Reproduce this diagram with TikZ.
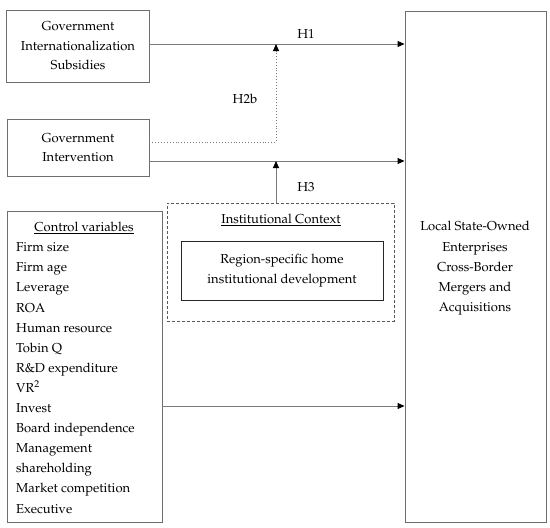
\documentclass[tikz,border=0pt]{standalone}
\usepackage[T1]{fontenc}
\usepackage{mathpazo}
\usetikzlibrary{arrows.meta}
\definecolor{boxgray}{HTML}{6E6E6E}
\definecolor{linegray}{HTML}{7A7A7A}
\begin{document}
\begin{tikzpicture}[x=1pt,y=-1pt,
  txt/.style={font=\fontsize{13}{19.6}\selectfont, inner sep=0pt},
  bx/.style={draw=boxgray, line width=0.9pt, inner sep=0pt, align=center, font=\fontsize{13}{19.6}\selectfont},
  conn/.style={draw=linegray, line width=0.9pt, -{Triangle[length=7pt,width=6pt,color=black]}}
]
\useasboundingbox (0,0) rectangle (550,528);

\node[bx, minimum width=143pt, minimum height=72pt] (gis) at (78,46)
  {Government\\Internationalization\\Subsidies};
\node[bx, minimum width=142pt, minimum height=57pt] (gi) at (78,147.5)
  {Government\\Intervention};
\node[bx, minimum width=141pt, minimum height=511pt] (lsoe) at (475.5,266.5) {};
\node[txt, align=center, font=\fontsize{13}{20.2}\selectfont] (lsoetxt) at (475,268.5)
  {Local State-Owned\\Enterprises\\Cross-Border\\Mergers and\\Acquisitions};

\node[bx, minimum width=155pt, minimum height=311pt] (ctrl) at (84.5,366.5) {};
\node[txt] (ctrlhead) at (84,228) {\underline{Control variables}};
\node[txt, align=left, anchor=north west, font=\fontsize{13}{20.1}\selectfont] (ctrllist) at (16,242.5)
  {Firm size\\Firm age\\Leverage\\ROA\\Human resource\\Tobin Q\\R\&D expenditure\\VR\textsuperscript{2}\\Invest\\Board independence\\Management\\shareholding\\Market competition\\Executive};

\node[draw=boxgray!80!black, dash pattern=on 3pt off 2pt, line width=0.9pt, minimum width=227pt, minimum height=118pt, inner sep=0pt] (ic) at (280.5,262) {};
\node[txt] (ichead) at (281,220) {\underline{Institutional Context}};
\node[bx, draw=black!85, minimum width=202pt, minimum height=59pt] (rs) at (282,270.5)
  {Region-specific home\\institutional development};

\coordinate (j1) at (276,44);
\coordinate (j2) at (276,161);

\draw[conn] ([yshift=2pt]gis.east) -- ([yshift=2pt]gis.east -| lsoe.west);
\draw[conn, dotted] ([yshift=5.5pt]gi.east) -| (j1);
\draw[conn] ([yshift=-13.5pt]gi.east) -- ([yshift=-13.5pt]gi.east -| lsoe.west);
\draw[conn] (ic.north -| j2) -- (j2);
\draw[conn] ([yshift=-39.5pt]ctrl.east) -- ([yshift=-39.5pt]ctrl.east -| lsoe.west);

\node[txt] (h1) at (306,34) {H1};
\node[txt] (h2b) at (245,99) {H2b};
\node[txt] (h3) at (306,187) {H3};
\end{tikzpicture}
\end{document}
